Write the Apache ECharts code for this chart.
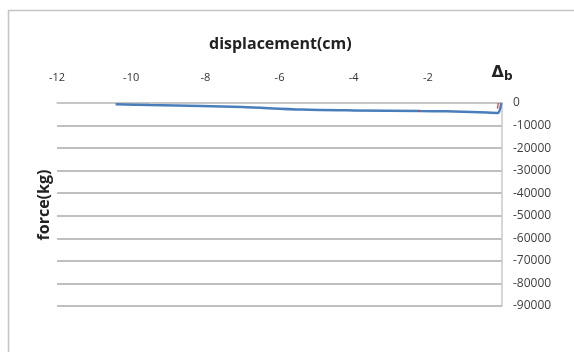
<!DOCTYPE html>
<html>
<head>
<meta charset="utf-8">
<script src="https://cdn.jsdelivr.net/npm/echarts@6/dist/echarts.min.js"></script>
<style>
html,body{margin:0;padding:0;background:#fff;}
#main{width:574px;height:352px;}
</style>
</head>
<body>
<div id="main"></div>
<script>
// displacement (cm) / force (kg)
var dispBlue  = [-10.42, -9.5, -8.1, -7, -5.4, -4, -2.2, -1.5, -0.6, -0.12, -0.02];
var forceBlue = [-600, -900, -1300, -1800, -2900, -3300, -3600, -3700, -4100, -4400, 0];
var dispRed  = [-0.12, -0.1];
var forceRed = [-2500, 0];
var dotRed = [[-2.23, -3600]];
var xTicks = [-12, -10, -8, -6, -4, -2, 0];

function pairs(xs, ys){
    var out = [];
    for(var i=0;i<xs.length;i++) out.push([xs[i], ys[i]]);
    return out;
}

var myChart = echarts.init(document.getElementById('main'));
var option = {
    animation:false,
    title:{
        text:'displacement(cm)',
        left:204,
        top:31,
        textStyle:{fontFamily:'Open Sans',fontSize:16,fontWeight:'bold',color:'#222'}
    },
    graphic:[
        {type:'rect',z:-10,shape:{x:8.5,y:10.5,width:600,height:400},
         style:{fill:'#fff',stroke:'#c4c4c4',lineWidth:1.5}},
        {type:'text',x:44,y:205,rotation:Math.PI/2,
         style:{text:'force(kg)',fontFamily:'Open Sans',fontSize:16,fontWeight:'bold',
                fill:'#222',align:'center',verticalAlign:'middle'}}
    ],
    grid:{left:57,right:72,top:103,bottom:46},
    xAxis:{
        type:'value',
        position:'top',
        min:-12,max:0,interval:2,
        axisLine:{show:true,onZero:false,lineStyle:{color:'#c8c8c8',width:1.5}},
        axisTick:{show:false},
        splitLine:{show:false},
        axisLabel:{
            margin:20,
            fontFamily:'Open Sans',fontSize:11,color:'#333',
            formatter:function(v){
                if(v===0) return '{d|\u0394}{s|b}';
                return xTicks.indexOf(v)>=0 ? String(v) : '';
            },
            rich:{
                d:{fontFamily:'DejaVu Sans',fontSize:16,fontWeight:'bold',color:'#222'},
                s:{fontFamily:'DejaVu Sans',fontSize:12,fontWeight:'bold',color:'#222',padding:[9,0,0,0]}
            }
        }
    },
    yAxis:{
        type:'value',
        position:'right',
        min:-90000,max:0,interval:10000,
        axisLine:{show:true,lineStyle:{color:'#c8c8c8',width:1.5}},
        axisTick:{show:false},
        splitLine:{show:true,lineStyle:{color:'#c0c0c0',width:2}},
        axisLabel:{margin:11,fontFamily:'Open Sans',fontSize:12,color:'#404040',
                   formatter:function(v){ return String(v); }}
    },
    series:[
        {
            type:'line',
            data:pairs(dispBlue, forceBlue),
            showSymbol:false,
            smooth:0.3,
            lineStyle:{color:'#4a7ebb',width:2.5},
            z:3
        },
        {
            type:'line',
            data:pairs(dispRed, forceRed),
            showSymbol:false,
            lineStyle:{color:'#e03030',width:1.2},
            z:4
        },
        {
            type:'scatter',
            data:dotRed,
            symbolSize:2,
            itemStyle:{color:'#e03030'},
            z:4
        }
    ]
};
myChart.setOption(option);
</script>
</body>
</html>
